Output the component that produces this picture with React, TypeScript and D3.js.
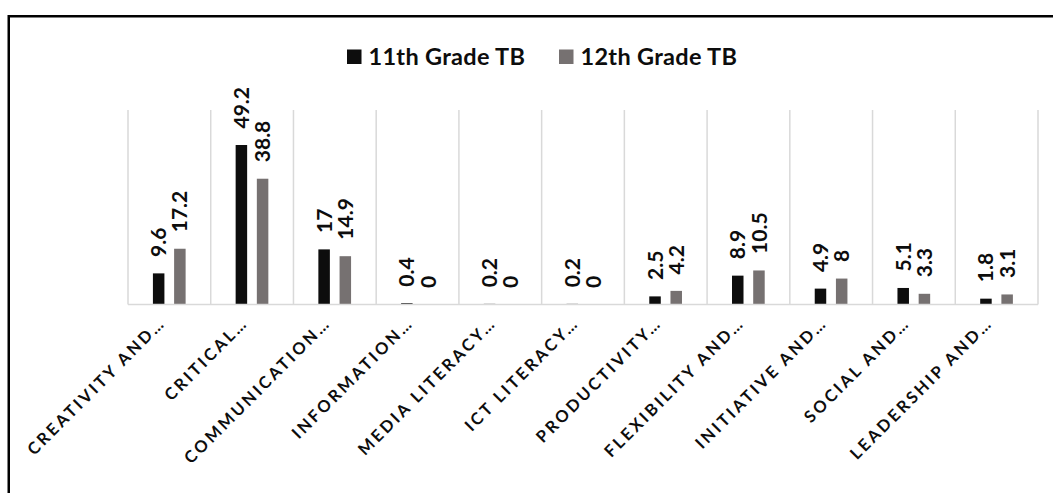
import * as d3 from 'd3';
import React from 'react';

const categories = [
  'CREATIVITY AND…',
  'CRITICAL…',
  'COMMUNICATION…',
  'INFORMATION…',
  'MEDIA LITERACY…',
  'ICT LITERACY…',
  'PRODUCTIVITY…',
  'FLEXIBILITY AND…',
  'INITIATIVE AND…',
  'SOCIAL AND…',
  'LEADERSHIP AND…',
];
const grade11 = [9.6, 49.2, 17, 0.4, 0.2, 0.2, 2.5, 8.9, 4.9, 5.1, 1.8];
const grade12 = [17.2, 38.8, 14.9, 0, 0, 0, 4.2, 10.5, 8, 3.3, 3.1];
const seriesNames = ['11th Grade TB', '12th Grade TB'];
const seriesColors = ['#0d0d0d', '#767171'];

export default function App() {
  const svgRef = React.useRef<SVGSVGElement>(null);

  React.useEffect(() => {
    if (svgRef.current == null) {
      return;
    }
    const w = 1053;
    const h = 493;
    const svg = d3.select(svgRef.current);
    svg.selectAll('*').remove();
    const font = 'Lato, "Open Sans", sans-serif';

    // outer frame (runs off the right and bottom edges)
    svg
      .append('rect')
      .attr('x', 8.75)
      .attr('y', 16.25)
      .attr('width', w + 40)
      .attr('height', h + 40)
      .attr('fill', 'none')
      .attr('stroke', '#000')
      .attr('stroke-width', 2.5);

    const xScale = d3.scaleBand().domain(categories).range([128, 1038]);
    const yScale = d3.scaleLinear().domain([0, 60]).range([304.5, 110]);
    const bw = xScale.bandwidth();
    const barW = 11.5;
    const off = [-10.7, 10.5];

    // vertical separators
    const seps = d3.range(categories.length + 1).map((i) => 128 + i * bw);
    svg
      .selectAll('line.sep')
      .data(seps)
      .enter()
      .append('line')
      .attr('x1', (d) => d)
      .attr('x2', (d) => d)
      .attr('y1', yScale(60))
      .attr('y2', yScale(0))
      .attr('stroke', '#d9d9d9')
      .attr('stroke-width', 1.5);

    [grade11, grade12].forEach((vals, s) => {
      const g = svg.append('g');
      vals.forEach((v, i) => {
        const cx = (xScale(categories[i]) as number) + bw / 2 + off[s];
        g.append('rect')
          .attr('x', cx - barW / 2)
          .attr('y', yScale(v))
          .attr('width', barW)
          .attr('height', yScale(0) - yScale(v))
          .attr('fill', seriesColors[s]);
        g.append('text')
          .attr('transform', `translate(${cx}, ${yScale(v) - 16.5}) rotate(-90)`)
          .attr('dy', '0.36em')
          .style('font-family', font)
          .style('font-weight', 'bold')
          .style('font-size', '21px')
          .attr('fill', '#0d0d0d')
          .text(String(v));
      });
    });

    // baseline
    svg
      .append('line')
      .attr('x1', 128)
      .attr('x2', 1038)
      .attr('y1', yScale(0))
      .attr('y2', yScale(0))
      .attr('stroke', '#d9d9d9')
      .attr('stroke-width', 1.5);

    // category labels
    categories.forEach((c) => {
      const cx = (xScale(c) as number) + bw / 2 - 3;
      svg
        .append('text')
        .attr('transform', `translate(${cx}, 324) rotate(-45)`)
        .attr('text-anchor', 'end')
        .style('font-family', font)
        .style('font-weight', 'bold')
        .style('font-size', '16.5px')
        .style('letter-spacing', '2.8px')
        .attr('fill', '#0d0d0d')
        .text(c);
    });

    // legend
    const legendX = [347, 559];
    seriesNames.forEach((name, s) => {
      svg
        .append('rect')
        .attr('x', legendX[s])
        .attr('y', 49.5)
        .attr('width', 14.5)
        .attr('height', 14.5)
        .attr('fill', seriesColors[s]);
      svg
        .append('text')
        .attr('x', legendX[s] + 21.5)
        .attr('y', 64.5)
        .style('font-family', font)
        .style('font-weight', 'bold')
        .style('font-size', '23.5px')
        .style('letter-spacing', '0.3px')
        .attr('fill', '#0d0d0d')
        .text(name);
    });
  }, []);

  return (
    <svg
      ref={svgRef}
      width={1053}
      height={493}
      style={{ position: 'absolute', left: 0, top: 0, background: '#fff' }}
    ></svg>
  );
}
